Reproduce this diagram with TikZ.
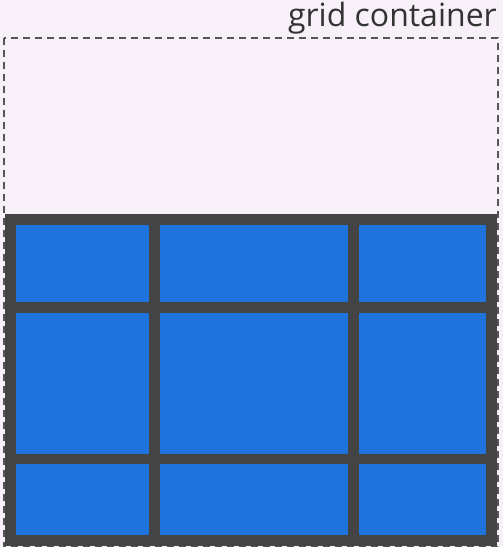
\documentclass[tikz,border=0pt]{standalone}
\usepackage{fontspec}
\setmainfont{Open Sans}
\usetikzlibrary{positioning, matrix}
\definecolor{pagebg}{HTML}{F7F0F8}
\definecolor{itemblue}{HTML}{1E73DD}
\definecolor{gapgray}{HTML}{444444}
\definecolor{framegray}{HTML}{555555}
\tikzset{%
  cell/.style={rectangle, fill=itemblue, draw=none, inner sep=0pt, outer sep=0pt},
  grid/.style={
    matrix of nodes,
    nodes in empty cells,
    fill=gapgray,
    inner sep=11pt,
    row sep=10.5pt,
    column sep=11pt,
    nodes={cell},
    column 1/.style={nodes={minimum width=133pt}},
    column 2/.style={nodes={minimum width=188pt}},
    column 3/.style={nodes={minimum width=127pt}},
    row 1/.style={nodes={minimum height=77pt}},
    row 2/.style={nodes={minimum height=141pt}},
    row 3/.style={nodes={minimum height=71pt}}
  },
  frame/.style={draw=framegray, line width=1.8pt, dash pattern=on 7pt off 5pt},
  caption/.style={font=\fontsize{32}{38}\selectfont, text=black!80, inner sep=0pt}
}

\begin{document}
\begin{tikzpicture}[x=1pt, y=1pt]
  \fill[pagebg] (0,0) rectangle (503,547);
  \useasboundingbox (0,0) rectangle (503,547);
  % dashed outline of the container
  \coordinate (box-nw) at (4,509);
  \coordinate (box-se) at (498,0);
  \draw[frame] (box-nw) rectangle (box-se);
  \node[caption, anchor=base east] (label) at (497,520) {grid container};
  % tracks and gaps
  \matrix (tracks) [grid, anchor=north west] at (5,333)
    { & & \\ & & \\ & & \\};
\end{tikzpicture}
\end{document}
